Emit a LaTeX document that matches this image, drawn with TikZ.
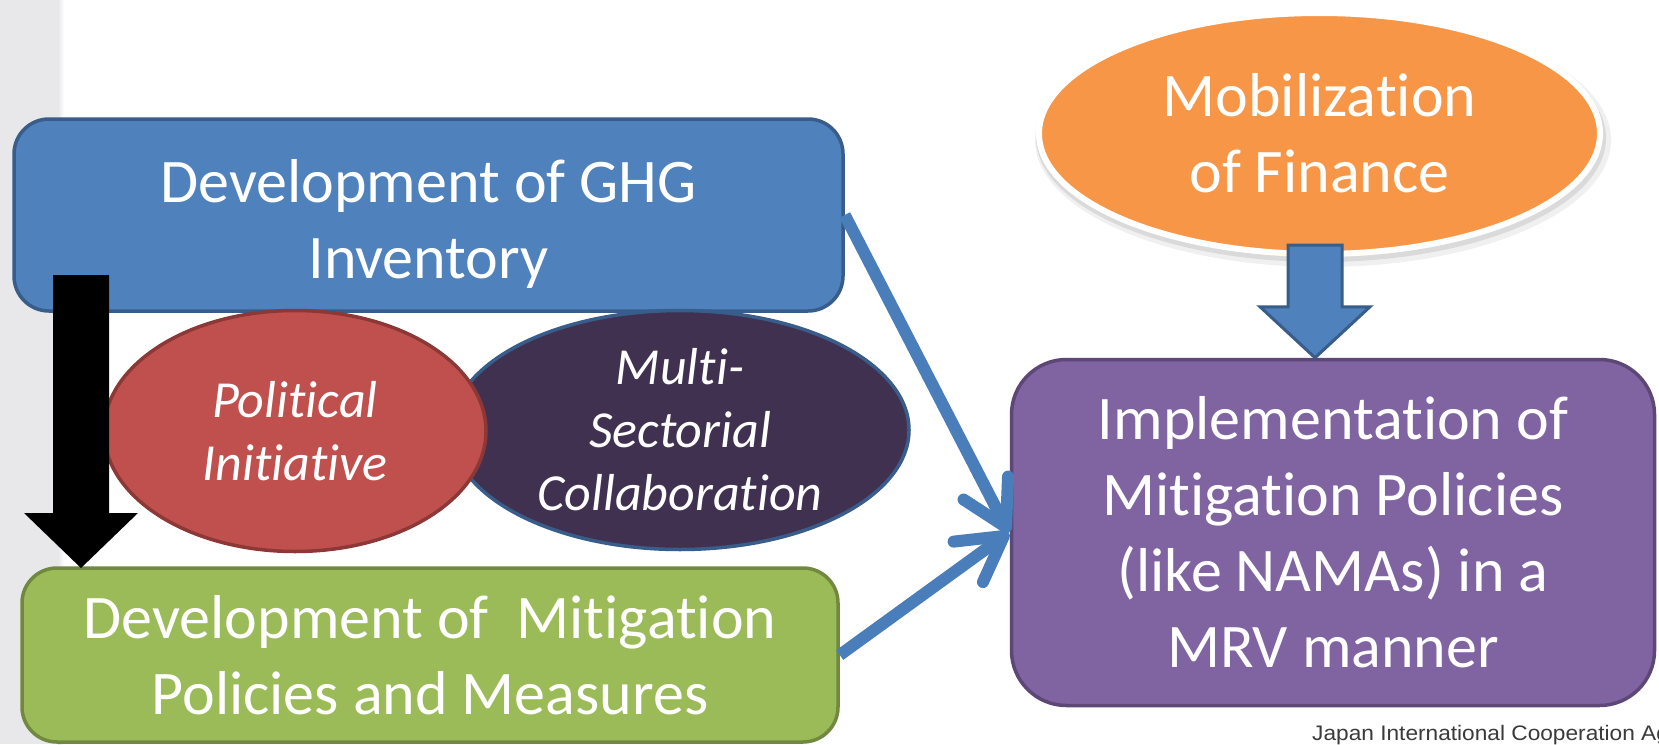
\documentclass[tikz,border=0pt]{standalone}
\usepackage{fontspec}
\setmainfont{Carlito}[Ligatures=NoCommon]
\newfontfamily\footfont{Liberation Sans}
\usetikzlibrary{shapes.geometric,arrows.meta,calc}
\definecolor{ghgfill}{HTML}{4F81BD}
\definecolor{ghgline}{HTML}{385D8A}
\definecolor{redfill}{HTML}{C0504D}
\definecolor{redline}{HTML}{8C3836}
\definecolor{dkfill}{HTML}{403151}
\definecolor{greenfill}{HTML}{9BBB59}
\definecolor{greenline}{HTML}{71893F}
\definecolor{purpfill}{HTML}{8064A2}
\definecolor{purpline}{HTML}{5C4776}
\definecolor{orfill}{HTML}{F79646}
\definecolor{lineblue}{HTML}{4A7EBB}
\definecolor{grayside}{HTML}{E8E8EA}
\definecolor{footgray}{HTML}{3A3A3A}
\begin{document}
\begin{tikzpicture}[x=1pt,y=-1pt,
  boxstyle/.style={rectangle, line width=3.5pt, text=white, align=center, inner sep=0pt,
    font=\fontsize{62}{76}\selectfont},
  ellstyle/.style={ellipse, line width=3.5pt, text=white, align=center, inner sep=0pt,
    font=\fontsize{52}{63}\selectfont\itshape},
  conn/.style={draw=lineblue, line width=12pt, -{Straight Barb[length=44pt,width=50pt,round]}},
  blockarrow/.style={fill=ghgfill, draw=ghgline, line width=3pt, line join=miter}
]
\useasboundingbox (0,0) rectangle (1659,744);
\clip (0,0) rectangle (1659,744);
\fill[white] (0,0) rectangle (1659,744);
\fill[grayside] (0,0) rectangle (61,744);
\shade[left color=grayside, right color=white] (58,0) rectangle (64,744);

% boxes
\node[boxstyle, fill=ghgfill, draw=ghgline, rounded corners=35pt,
  minimum width=829pt, minimum height=192pt] (ghg) at (428.5,215)
  {\raisebox{-10pt}[\height][\depth]{\begin{tabular}{@{}c@{}}Development of GHG\\Inventory\end{tabular}}};
\node[ellstyle, fill=dkfill, draw=ghgline, minimum width=458pt, minimum height=239pt]
  (multi) at (680,430) {Multi-\\Sectorial\\Collaboration};
\node[ellstyle, fill=redfill, draw=redline, minimum width=382pt, minimum height=241pt]
  (pol) at (295,431) {Political\\Initiative};
\node[boxstyle, fill=greenfill, draw=greenline, rounded corners=35pt,
  minimum width=816pt, minimum height=174pt] (green) at (430,655)
  {Development of~ Mitigation\\Policies and Measures};
\node[boxstyle, fill=purpfill, draw=purpline, rounded corners=55pt,
  minimum width=643pt, minimum height=346pt] (impl) at (1333,532.5)
  {Implementation of\\Mitigation Policies\\(like NAMAs) in a\\MRV manner};

% orange ellipse with soft shadow
\fill[black, opacity=0.06] (1323,140) ellipse [x radius=288pt, y radius=127pt];
\fill[black, opacity=0.09] (1321,138) ellipse [x radius=285pt, y radius=124pt];
\node[ellipse, fill=orfill, draw=white, line width=6pt, text=white, align=center,
  inner sep=0pt, font=\fontsize{62}{76}\selectfont,
  minimum width=561pt, minimum height=241pt] (fin) at (1319.5,133.5)
  {Mobilization\\of Finance};

% connectors
\coordinate (hit) at ($(impl.west)+(-1,0)$);
\draw[conn] (ghg.east) -- (hit);
\draw[conn] (green.east) -- (hit);

% black block arrow from GHG box to green box
\coordinate (bk1) at (81,275);
\coordinate (bk2) at (81,568);
\fill[black] ($(bk1)+(-28,0)$) -- ($(bk1)+(28,0)$) -- ($(bk2)+(28,-55)$)
  -- ($(bk2)+(57,-55)$) -- (bk2) -- ($(bk2)+(-57,-55)$) -- ($(bk2)+(-28,-55)$) -- cycle;

% blue block arrow from finance to implementation
\coordinate (bb1) at (1315,245);
\coordinate (bb2) at (bb1 |- impl.north);
\path[blockarrow] ($(bb1)+(-27,0)$) -- ($(bb1)+(27,0)$) -- ($(bb2)+(27,-51)$)
  -- ($(bb2)+(55,-51)$) -- (bb2) -- ($(bb2)+(-55,-51)$) -- ($(bb2)+(-27,-51)$) -- cycle;

% footer
\node[anchor=base west, inner sep=0pt, text=footgray,
  font=\footfont\fontsize{21}{24}\selectfont] (foot) at (1312,740)
  {\scalebox{1.08}[1]{Japan International Cooperation Ag}};
\end{tikzpicture}
\end{document}
